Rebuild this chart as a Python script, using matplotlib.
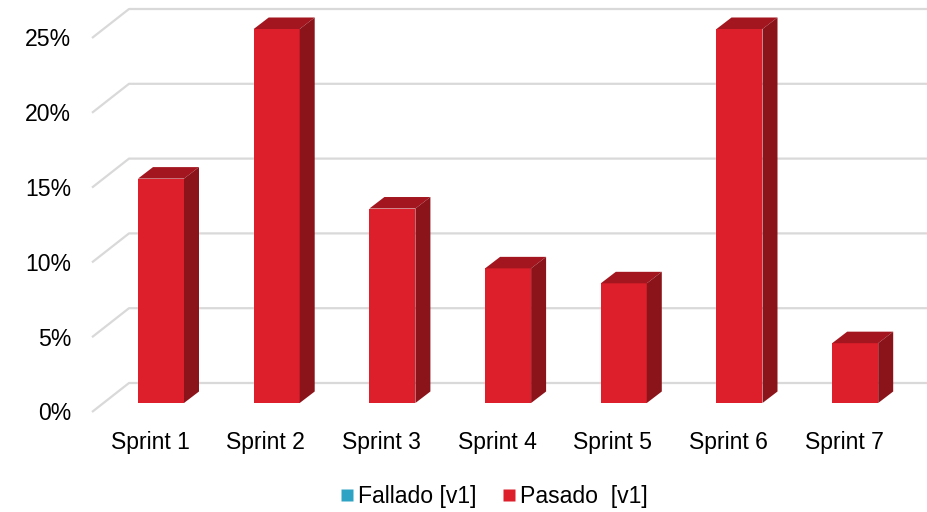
import matplotlib
matplotlib.use("Agg")
import matplotlib.pyplot as plt
from matplotlib.patches import Polygon, Rectangle
from matplotlib.lines import Line2D

categories = ["Sprint 1", "Sprint 2", "Sprint 3", "Sprint 4", "Sprint 5", "Sprint 6", "Sprint 7"]
pasado = [15, 25, 13, 9, 8, 25, 4]
fallado = [0, 0, 0, 0, 0, 0, 0]
ticks = [0, 5, 10, 15, 20, 25]
tick_labels = ["0%", "5%", "10%", "15%", "20%", "25%"]

plt.rcParams['font.family'] = ['Liberation Sans', 'DejaVu Sans']

W, H = 928, 512
fig = plt.figure(figsize=(W / 100, H / 100), dpi=100)
ax = fig.add_axes([0, 0, 1, 1])
ax.axis('off')

# scales (pixels per unit)
px_cat = 115.7
px_pct = 14.96
x0_px = 161.0   # pixel of category 0
y0_px = 403.0   # pixel (from top) of 0% at bar front plane
ax.set_xlim(-x0_px / px_cat, (W - x0_px) / px_cat)
ax.set_ylim(-(H - y0_px) / px_pct, y0_px / px_pct)

# 3D geometry in data units
bar_w = 46 / px_cat
ddx = 15 / px_cat
ddy = 11.5 / px_pct
floor_front_dx = -69 / px_cat
floor_back_dx = -32 / px_cat
floor_front_dy = -9 / px_pct
floor_back_dy = 20 / px_pct
right_x = (W - x0_px) / px_cat

front_col = "#DC1F2A"
top_col = "#A3161F"
side_col = "#8B141A"
grid_col = "#D9D9D9"
fs = 16.6

# gridlines in perspective
for t, lab in zip(ticks, tick_labels):
    ax.plot([floor_front_dx, floor_back_dx, right_x],
            [t + floor_front_dy, t + floor_back_dy, t + floor_back_dy],
            color=grid_col, lw=1.6, zorder=1, solid_capstyle='butt')
    ax.text(-90 / px_cat, t + floor_front_dy - 2 / px_pct, lab, ha='right', va='center',
            fontsize=fs, color='#000000')

# bars
for i, v in enumerate(pasado):
    xl = i - bar_w / 2
    xr = i + bar_w / 2
    ax.add_patch(Rectangle((xl, 0), bar_w, v, facecolor=front_col, edgecolor='none', zorder=3))
    ax.add_patch(Polygon([(xl, v), (xr, v), (xr + ddx, v + ddy), (xl + ddx, v + ddy)],
                         closed=True, facecolor=top_col, edgecolor='none', zorder=3))
    ax.add_patch(Polygon([(xr, 0), (xr + ddx, ddy), (xr + ddx, v + ddy), (xr, v)],
                         closed=True, facecolor=side_col, edgecolor='none', zorder=3))

# category labels
for i, c in enumerate(categories):
    ax.text(i - 11 / px_cat, -40 / px_pct, c, ha='center', va='center', fontsize=fs, color='#000000')

handles = [Line2D([], [], marker='s', linestyle='none', markersize=8,
                  markerfacecolor='#2EA3C4', markeredgecolor='none', label='Fallado [v1]'),
           Line2D([], [], marker='s', linestyle='none', markersize=8,
                  markerfacecolor=front_col, markeredgecolor='none', label='Pasado  [v1]')]
fig.legend(handles=handles, loc='center', bbox_to_anchor=(494 / W, 1 - 497 / H), ncol=2,
           frameon=False, fontsize=fs, handletextpad=0.2, columnspacing=1.1,
           handlelength=0.6, borderpad=0, borderaxespad=0)

fig.savefig("out.png", dpi=100)
